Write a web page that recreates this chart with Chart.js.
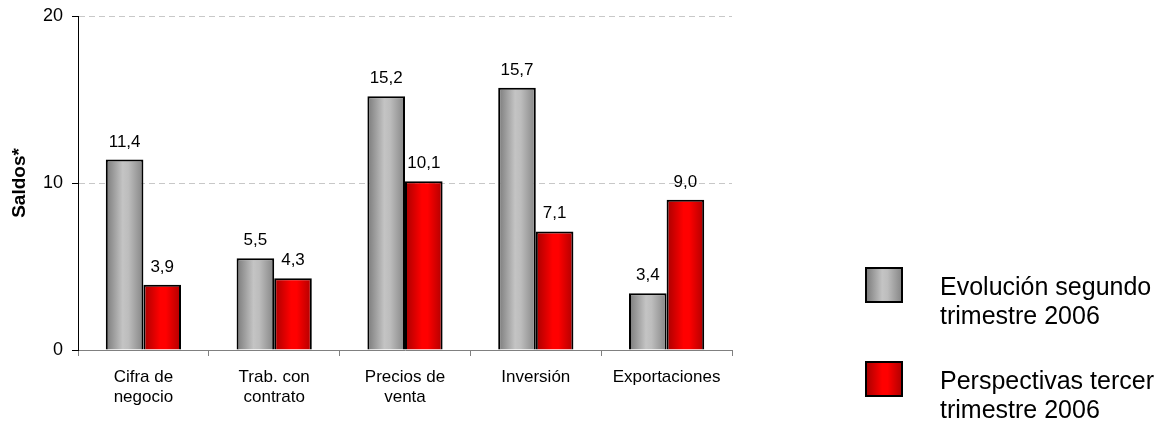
<!DOCTYPE html>
<html>
<head>
<meta charset="utf-8">
<script src="https://cdn.jsdelivr.net/npm/chart.js@4/dist/chart.umd.min.js"></script>
<style>
  html, body { margin: 0; padding: 0; background: #fff; }
  #wrap { width: 1163px; height: 426px; position: relative; }
</style>
</head>
<body>
<div id="wrap"><canvas id="c" width="1163" height="426"></canvas></div>
<script>
const categories = [["Cifra de", "negocio"], ["Trab. con", "contrato"], ["Precios de", "venta"], ["Inversión"], ["Exportaciones"]];
const evolucion = [11.4, 5.5, 15.2, 15.7, 3.4];
const perspectivas = [3.9, 4.3, 10.1, 7.1, 9.0];
const seriesNames = [["Evolución segundo", "trimestre 2006"], ["Perspectivas tercer", "trimestre 2006"]];
const yTicks = [0, 10, 20];

const FONT = "'Liberation Sans', Arial, sans-serif";
const CAT_PCT = 0.575;

const gradStops = [
  [[0, '#7a7a7a'], [0.45, '#c4c4c4'], [0.6, '#bdbdbd'], [1, '#858585']],
  [[0, '#a80000'], [0.45, '#ff0000'], [0.6, '#ff0000'], [1, '#b00000']]
];
const fallback = ['#a0a0a0', '#ff0000'];

function barGradient(ctx) {
  const chart = ctx.chart;
  const xs = chart.scales && chart.scales.x;
  if (!chart.chartArea || !xs || ctx.dataIndex === undefined) return fallback[ctx.datasetIndex];
  const center = xs.getPixelForValue(ctx.dataIndex);
  const catW = (xs.right - xs.left) / categories.length;
  const bw = catW * CAT_PCT / 2;
  const x0 = ctx.datasetIndex === 0 ? center - bw : center;
  const g = chart.ctx.createLinearGradient(x0, 0, x0 + bw, 0);
  gradStops[ctx.datasetIndex].forEach(s => g.addColorStop(s[0], s[1]));
  return g;
}

const valueLabels = {
  id: 'valueLabels',
  afterDatasetsDraw(chart) {
    const c = chart.ctx;
    c.save();
    c.font = "17px " + FONT;
    c.fillStyle = '#000';
    c.textAlign = 'center';
    c.textBaseline = 'alphabetic';
    chart.data.datasets.forEach((ds, di) => {
      chart.getDatasetMeta(di).data.forEach((el, i) => {
        const txt = ds.data[i].toFixed(1).replace('.', ',');
        c.fillText(txt, el.x, el.y - 13);
      });
    });
    c.restore();
  }
};

const customLegend = {
  id: 'customLegend',
  afterDraw(chart) {
    const c = chart.ctx;
    c.save();
    const boxX = 866, boxW = 36, boxH = 34;
    const tops = [268, 362];
    chart.data.datasets.forEach((ds, di) => {
      const y = tops[di];
      const g = c.createLinearGradient(boxX, 0, boxX + boxW, 0);
      gradStops[di].forEach(s => g.addColorStop(s[0], s[1]));
      c.fillStyle = g;
      c.fillRect(boxX, y, boxW, boxH);
      c.strokeStyle = '#000';
      c.lineWidth = 2;
      c.strokeRect(boxX, y, boxW, boxH);
      c.fillStyle = '#000';
      c.font = "25px " + FONT;
      c.textAlign = 'left';
      c.textBaseline = 'alphabetic';
      seriesNames[di].forEach((line, li) => {
        c.fillText(line, 940, y + 27 + li * 29);
      });
    });
    c.restore();
  }
};

new Chart(document.getElementById('c'), {
  type: 'bar',
  data: {
    labels: categories,
    datasets: [
      { label: seriesNames[0].join(' '), data: evolucion, backgroundColor: barGradient, borderColor: '#000', borderWidth: 2, borderSkipped: 'bottom' },
      { label: seriesNames[1].join(' '), data: perspectivas, backgroundColor: barGradient, borderColor: '#000', borderWidth: 2, borderSkipped: 'bottom' }
    ]
  },
  options: {
    responsive: false,
    animation: false,
    events: [],
    layout: { padding: { top: 16, right: 431, left: 0, bottom: 0 } },
    datasets: { bar: { categoryPercentage: CAT_PCT, barPercentage: 1 } },
    plugins: { legend: { display: false }, tooltip: { enabled: false } },
    scales: {
      x: {
        offset: true,
        grid: { offset: true, drawOnChartArea: false, drawTicks: true, tickLength: 6, tickColor: '#808080', color: '#808080' },
        border: { display: true, color: '#808080', width: 1 },
        ticks: { color: '#000', font: { family: FONT, size: 17, lineHeight: 1.15 }, padding: 12, maxRotation: 0, autoSkip: false },
        afterFit(s) { s.height = 76; s.paddingLeft = 0; s.paddingRight = 0; }
      },
      y: {
        min: 0, max: 20,
        afterBuildTicks(s) { s.ticks = yTicks.map(v => ({ value: v })); },
        grid: {
          color: ctx => (ctx.tick && ctx.tick.value === 0) ? 'rgba(0,0,0,0)' : '#c8c8c8',
          tickColor: '#000', tickLength: 6, lineWidth: 1, drawTicks: true
        },
        border: { display: true, color: '#000', width: 1, dash: [6, 4] },
        ticks: { color: '#000', font: { family: FONT, size: 18 }, padding: 9 },
        title: { display: true, text: 'Saldos*', color: '#000', font: { family: FONT, size: 19, weight: 'bold' }, padding: { top: 8, bottom: 0 } },
        afterFit(s) { s.width = 78; s.paddingTop = 0; s.paddingBottom = 0; }
      }
    }
  },
  plugins: [valueLabels, customLegend]
});
</script>
</body>
</html>
